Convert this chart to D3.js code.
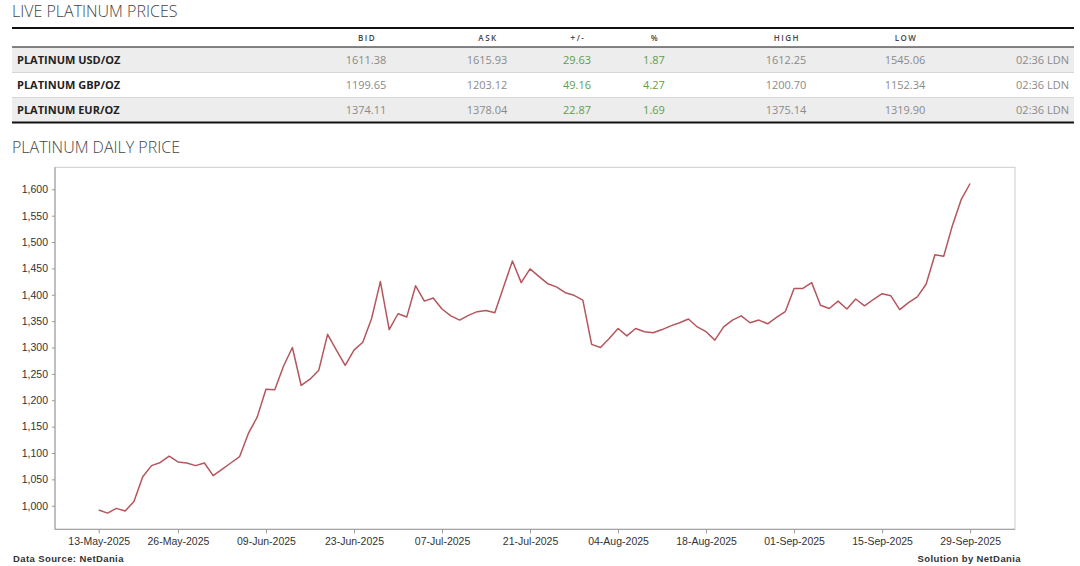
<!DOCTYPE html>
<html>
<head>
<meta charset="utf-8">
<script src="https://cdn.jsdelivr.net/npm/d3@7"></script>
<style>
  body { margin: 0; background: #fff; }
  svg { display: block; }
</style>
</head>
<body>
<div id="chart"></div>
<script>
// live prices table
const rowLabels = ["PLATINUM USD/OZ", "PLATINUM GBP/OZ", "PLATINUM EUR/OZ"];
const bid = ["1611.38", "1199.65", "1374.11"];
const ask = ["1615.93", "1203.12", "1378.04"];
const change = ["29.63", "49.16", "22.87"];
const pct = ["1.87", "4.27", "1.69"];
const high = ["1612.25", "1200.70", "1375.14"];
const low = ["1545.06", "1152.34", "1319.90"];
const time = ["02:36 LDN", "02:36 LDN", "02:36 LDN"];

// daily price, one value per weekday from 13-May-2025 to 29-Sep-2025
const prices = [
  992, 986, 995, 990, 1008, 1055, 1076, 1082, 1094, 1083,
  1081, 1076, 1081, 1057, 1069, 1081, 1093, 1137, 1168, 1221,
  1220, 1265, 1300, 1228, 1240, 1257, 1325, 1295, 1266, 1295,
  1310, 1355, 1425, 1334, 1364, 1358, 1417, 1388, 1394, 1373,
  1360, 1352, 1361, 1368, 1370, 1366, 1415, 1464, 1423, 1449,
  1435, 1421, 1415, 1404, 1399, 1390, 1306, 1300, 1317, 1336,
  1322, 1336, 1330, 1328, 1334, 1341, 1347, 1354, 1339, 1330,
  1314, 1339, 1352, 1360, 1347, 1352, 1345, 1357, 1368, 1412,
  1412, 1423, 1380, 1374, 1388, 1373, 1392, 1379, 1391, 1402,
  1398, 1372, 1385, 1396, 1420, 1476, 1473, 1532, 1581, 1611
];
const tickLabels = ["13-May-2025", "26-May-2025", "09-Jun-2025", "23-Jun-2025", "07-Jul-2025",
  "21-Jul-2025", "04-Aug-2025", "18-Aug-2025", "01-Sep-2025", "15-Sep-2025", "29-Sep-2025"];
const yTicks = [1000, 1050, 1100, 1150, 1200, 1250, 1300, 1350, 1400, 1450, 1500, 1550, 1600];

const W = 1080, H = 566;
const svg = d3.select("#chart").append("svg").attr("width", W).attr("height", H);

const fmtDay = d3.utcFormat("%d-%b-%Y");
const days = d3.utcDay.range(new Date(Date.UTC(2025, 4, 13)), new Date(Date.UTC(2025, 8, 30)))
  .filter(d => d.getUTCDay() !== 0 && d.getUTCDay() !== 6);
const dayLabels = days.map(fmtDay);

// ---- table ----
svg.append("text").attr("x", 12).attr("y", 16.5)
  .attr("font-family", "Open Sans").attr("font-size", 16).attr("font-weight", 300).attr("fill", "#444")
  .text("LIVE PLATINUM PRICES");

const tL = 12, tR = 1074;
const rowY = [47, 72, 97], rowH = 25;
svg.selectAll("rect.row").data(rowLabels).enter().append("rect")
  .attr("x", tL).attr("width", tR - tL)
  .attr("y", (d, i) => rowY[i]).attr("height", rowH)
  .attr("fill", (d, i) => i % 2 === 0 ? "#ededed" : "#fff");
svg.selectAll("line.sep").data([72, 97]).enter().append("line")
  .attr("x1", tL).attr("x2", tR).attr("y1", d => d + 0.5).attr("y2", d => d + 0.5)
  .attr("stroke", "#d6d6d6");
svg.append("line").attr("x1", tL).attr("x2", tR).attr("y1", 28).attr("y2", 28)
  .attr("stroke", "#111").attr("stroke-width", 2);
svg.append("line").attr("x1", tL).attr("x2", tR).attr("y1", 47).attr("y2", 47)
  .attr("stroke", "#111").attr("stroke-width", 1.2);
svg.append("line").attr("x1", tL).attr("x2", tR).attr("y1", 122.5).attr("y2", 122.5)
  .attr("stroke", "#111").attr("stroke-width", 2);

const cols = [
  { head: "BID", x: 366, vals: bid, color: "#8a8a8a" },
  { head: "ASK", x: 487, vals: ask, color: "#8a8a8a" },
  { head: "+/-", x: 577, vals: change, color: "#5e9e4c" },
  { head: "%", x: 654, vals: pct, color: "#5e9e4c" },
  { head: "HIGH", x: 786, vals: high, color: "#8a8a8a" },
  { head: "LOW", x: 905, vals: low, color: "#8a8a8a" }
];
cols.forEach(c => {
  svg.append("text").attr("x", c.x + 1).attr("y", 41)
    .attr("text-anchor", "middle").attr("font-family", "Open Sans")
    .attr("font-size", 8).attr("font-weight", 600).attr("letter-spacing", 1.5)
    .attr("fill", "#444").text(c.head);
  svg.selectAll(null).data(c.vals).enter().append("text")
    .attr("x", c.x).attr("y", (d, i) => rowY[i] + 17)
    .attr("text-anchor", "middle").attr("font-family", "Open Sans")
    .attr("font-size", 11).attr("fill", c.color).text(d => d);
});
svg.selectAll("text.lbl").data(rowLabels).enter().append("text")
  .attr("x", 17).attr("y", (d, i) => rowY[i] + 17)
  .attr("font-family", "Open Sans").attr("font-size", 11).attr("font-weight", 700)
  .attr("fill", "#222").text(d => d);
svg.selectAll("text.tm").data(time).enter().append("text")
  .attr("x", 1069).attr("y", (d, i) => rowY[i] + 17).attr("text-anchor", "end")
  .attr("font-family", "Open Sans").attr("font-size", 11).attr("fill", "#8a8a8a").text(d => d);

svg.append("text").attr("x", 12).attr("y", 152.5)
  .attr("font-family", "Open Sans").attr("font-size", 16).attr("font-weight", 300).attr("fill", "#444")
  .text("PLATINUM DAILY PRICE");

// ---- chart ----
const pL = 55, pR = 1015, pT = 167.3, pB = 529.3;
const x = d3.scaleLinear().domain([-4.97, 104.1]).range([pL, pR]);
const y = d3.scaleLinear().domain([955.3, 1641.7]).range([pB, pT]);

svg.append("rect").attr("x", pL).attr("y", pT).attr("width", pR - pL).attr("height", pB - pT)
  .attr("fill", "none").attr("stroke", "#ccc");

const yAxis = svg.append("g").attr("transform", `translate(${pL},0)`)
  .call(d3.axisLeft(y).tickValues(yTicks).tickSize(3).tickPadding(4).tickFormat(d3.format(",")));
const xAxis = svg.append("g").attr("transform", `translate(0,${pB})`)
  .call(d3.axisBottom(x).tickValues(tickLabels.map(t => dayLabels.indexOf(t)))
    .tickSize(4).tickPadding(4).tickFormat(i => dayLabels[i]));
[yAxis, xAxis].forEach(g => {
  g.select(".domain").attr("stroke", "#999");
  g.selectAll(".tick line").attr("stroke", "#999");
  g.selectAll("text").attr("font-family", "Liberation Sans, Arial").attr("font-size", 10.5)
    .attr("fill", "#333");
});
yAxis.select(".domain").attr("d", `M0,${pT}V${pB}`);
xAxis.select(".domain").attr("d", `M${pL},0H${pR}`);

svg.append("path").datum(prices)
  .attr("fill", "none").attr("stroke", "#b5565d").attr("stroke-width", 1.5)
  .attr("stroke-linejoin", "round")
  .attr("d", d3.line().x((d, i) => x(i)).y(d => y(d)));

svg.append("text").attr("x", 13).attr("y", 562)
  .attr("font-family", "Liberation Sans, Arial").attr("font-size", 9.5).attr("font-weight", 700)
  .attr("letter-spacing", 0.4).attr("fill", "#333").text("Data Source: NetDania");
svg.append("text").attr("x", 1021).attr("y", 562).attr("text-anchor", "end")
  .attr("font-family", "Liberation Sans, Arial").attr("font-size", 9.5).attr("font-weight", 700)
  .attr("letter-spacing", 0.4).attr("fill", "#333").text("Solution by NetDania");
</script>
</body>
</html>
